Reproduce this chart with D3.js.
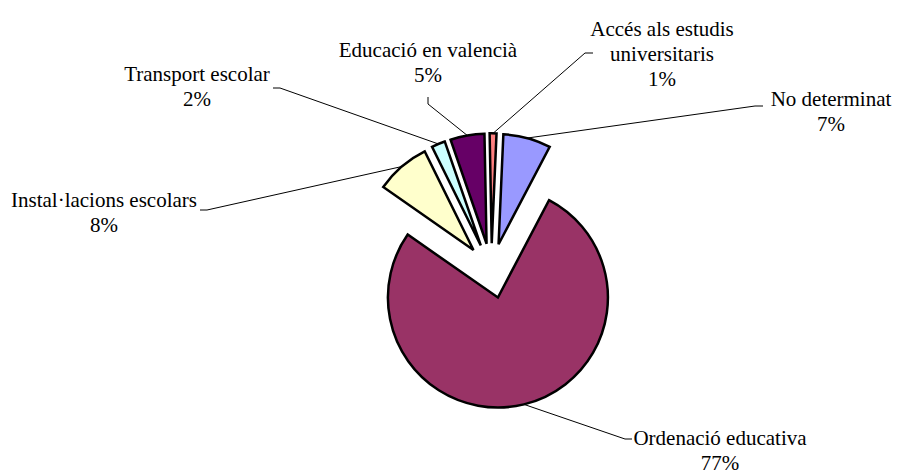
<!DOCTYPE html>
<html>
<head>
<meta charset="utf-8">
<script src="https://cdn.jsdelivr.net/npm/d3@7"></script>
<style>
  body { margin: 0; background: #fff; }
  text { font-family: "Liberation Serif", "DejaVu Serif", serif; font-size: 21px; fill: #000; }
</style>
</head>
<body>
<div id="chart"></div>
<script>
// chart data
const categories = ["No determinat", "Ordenació educativa", "Instal·lacions escolars", "Transport escolar", "Educació en valencià", "Accés als estudis universitaris"];
const labelLines = [["No determinat"], ["Ordenació educativa"], ["Instal·lacions escolars"], ["Transport escolar"], ["Educació en valencià"], ["Accés als estudis", "universitaris"]];
const values = [7, 77, 8, 2, 5, 1];
const percentLabels = ["7%", "77%", "8%", "2%", "5%", "1%"];

// look
const colors = ["#9999FF", "#993366", "#FFFFCC", "#CCFFFF", "#660066", "#FF8080"];
const width = 897, height = 475;
const cx = 491.4, cy = 270.8, radius = 110;
const explode = 0.25 * radius;
const startAngle = 2.5 * Math.PI / 180;
const lineHeight = 25;

// label placement: centre x, first baseline, leader points near the label
const labelLayout = [
  { x: 831, y: 106, leader: [[755, 106], [763, 106]] },
  { x: 720, y: 445, leader: [[625, 439], [632, 439]] },
  { x: 104, y: 207, leader: [[207, 210], [200, 210]] },
  { x: 197, y: 81, leader: [[280, 88], [273, 88]] },
  { x: 428, y: 57, leader: [[428, 104], [428, 97]] },
  { x: 662, y: 36, leader: [[585, 53], [593, 53]] }
];

const svg = d3.select('#chart').append('svg')
  .attr('width', width)
  .attr('height', height);

const pie = d3.pie().sort(null).value(d => d)
  .startAngle(startAngle).endAngle(startAngle + 2 * Math.PI);
const arcs = pie(values);

const arc = d3.arc().innerRadius(0).outerRadius(radius);
const edgeArc = d3.arc().innerRadius(radius).outerRadius(radius);

const offset = d => {
  const mid = (d.startAngle + d.endAngle) / 2;
  return [cx + Math.sin(mid) * explode, cy - Math.cos(mid) * explode];
};

// leader lines
svg.append('g').attr('class', 'leaders')
  .selectAll('path')
  .data(arcs)
  .join('path')
  .attr('d', (d, i) => {
    const o = offset(d);
    const c = edgeArc.centroid(d);
    const pts = [[o[0] + c[0], o[1] + c[1]]].concat(labelLayout[i].leader);
    return d3.line()(pts);
  })
  .attr('fill', 'none')
  .attr('stroke', '#000')
  .attr('stroke-width', 1);

// slices
svg.append('g').attr('class', 'slices')
  .selectAll('path')
  .data(arcs)
  .join('path')
  .attr('transform', d => `translate(${offset(d)})`)
  .attr('d', arc)
  .attr('fill', (d, i) => colors[i])
  .attr('stroke', '#000')
  .attr('stroke-width', 2.5)
  .attr('stroke-linejoin', 'miter');

// labels
const labels = svg.append('g').attr('class', 'labels')
  .selectAll('text')
  .data(arcs)
  .join('text')
  .attr('text-anchor', 'middle')
  .attr('x', (d, i) => labelLayout[i].x)
  .attr('y', (d, i) => labelLayout[i].y);

labels.each(function(d, i) {
  const t = d3.select(this);
  labelLines[i].concat([percentLabels[i]]).forEach((s, k) => {
    t.append('tspan')
      .attr('x', labelLayout[i].x)
      .attr('dy', k === 0 ? 0 : lineHeight)
      .text(s);
  });
});
</script>
</body>
</html>
